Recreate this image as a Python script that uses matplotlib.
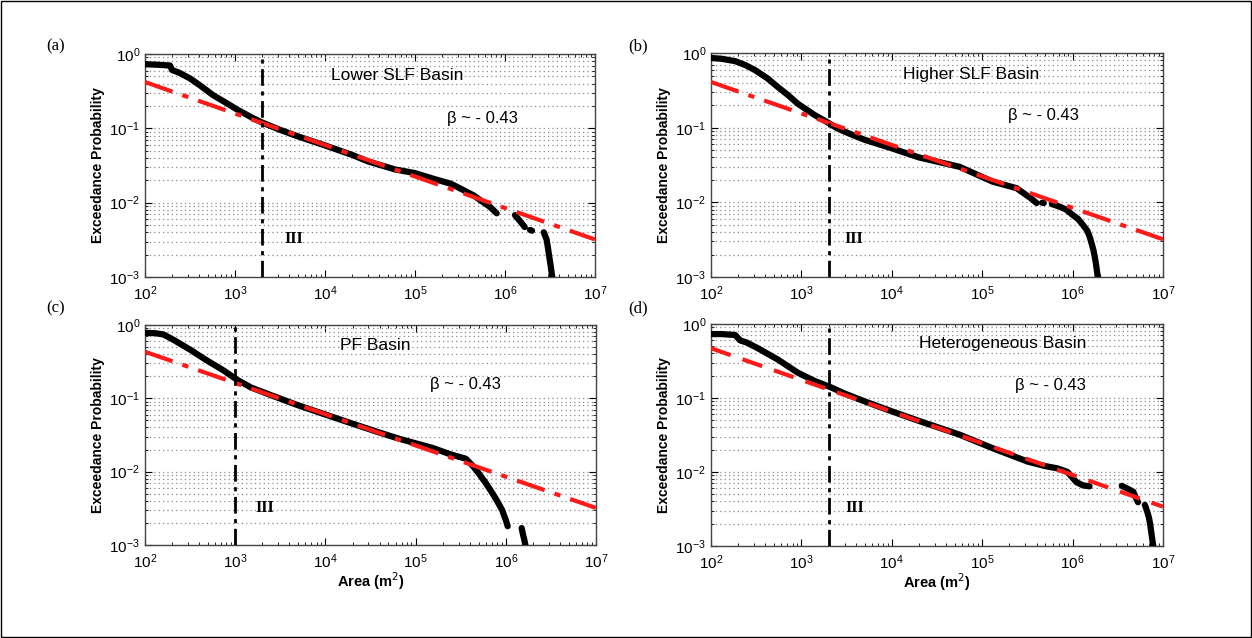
import numpy as np
import matplotlib
matplotlib.use("Agg")
from matplotlib import pyplot as plt
from matplotlib.patches import Rectangle
from matplotlib.ticker import LogLocator, NullFormatter

plt.rcParams['font.family'] = ['Liberation Sans', 'DejaVu Sans']

nan = np.nan

# (a) Lower SLF Basin - empirical exceedance curve (NaN breaks the gaps)
a_x = [100, 130, 160, 190, 200, 240, 316, 420, 570, 800, 1050, 1590, 2000, 3000, 5000,
       1e4, 2e4, 3e4, 6e4, 1e5, 1.6e5, 2.5e5, 3.2e5, 4.5e5, 5.7e5, 6.8e5, 8.1e5, nan,
       1.29e6, 1.5e6, 1.66e6, nan, 1.9e6, 2.0e6, nan,
       2.7e6, 2.9e6, 3.0e6, 3.1e6, 3.2e6, 3.35e6]
a_y = [0.73, 0.72, 0.71, 0.70, 0.61, 0.56, 0.47, 0.37, 0.28, 0.22, 0.18, 0.137, 0.12, 0.098, 0.078,
       0.059, 0.044, 0.036, 0.028, 0.025, 0.021, 0.018, 0.0155, 0.0125, 0.0102, 0.0088, 0.0072, nan,
       0.0068, 0.0055, 0.0047, nan, 0.0043, 0.0042, nan,
       0.0040, 0.0032, 0.0025, 0.0019, 0.0015, 0.001]

# (b) Higher SLF Basin
b_x = [100, 130, 185, 240, 308, 420, 550, 720, 910, 1400, 1900, 2500, 3500, 5000,
       1e4, 2e4, 5.6e4, 1.3e5, 2.4e5, 3.4e5, 4e5, nan, 4.6e5, 4.8e5, nan,
       5.9e5, 7.3e5, 8.5e5, 1.0e6, 1.15e6, 1.3e6, 1.45e6, 1.54e6, 1.6e6, 1.7e6, 1.8e6, 1.9e6]
b_y = [0.86, 0.84, 0.78, 0.69, 0.59, 0.46, 0.35, 0.27, 0.21, 0.148, 0.12, 0.098, 0.082, 0.069,
       0.053, 0.040, 0.030, 0.019, 0.0155, 0.0115, 0.0098, nan, 0.0099, 0.0098, nan,
       0.0095, 0.0087, 0.008, 0.0068, 0.006, 0.005, 0.0042, 0.0035, 0.003, 0.0023, 0.0016, 0.001]

# (c) PF Basin
c_x = [100, 130, 160, 205, 316, 480, 740, 1040, 1500, 2500, 5000, 1e4, 2e4, 4e4, 6.6e4,
       1.55e5, 2.5e5, 3.6e5, 4.3e5, 5e5, 6e5, 7.1e5, 8e5, 9.1e5, 1.0e6, 1.05e6, nan,
       1.5e6, 1.55e6, 1.6e6, 1.65e6]
c_y = [0.78, 0.77, 0.74, 0.63, 0.46, 0.33, 0.24, 0.18, 0.14, 0.11, 0.08, 0.06, 0.045, 0.034, 0.028,
       0.021, 0.017, 0.015, 0.012, 0.0095, 0.007, 0.0051, 0.004, 0.003, 0.0022, 0.0018, nan,
       0.0017, 0.0014, 0.0012, 0.001]

# (d) Heterogeneous Basin
d_x = [100, 130, 185, 210, 250, 330, 550, 910, 1400, 2100, 3000, 5000, 1e4, 2e4, 5.6e4,
       1.3e5, 3.2e5, 5e5, 6.8e5, 8.8e5, 1.1e6, 1.3e6, 1.54e6, nan,
       3.5e6, 4.0e6, 4.7e6, 5.0e6, 5.3e6, nan,
       6.3e6, 6.7e6, 7.0e6, 7.2e6, 7.5e6, 7.8e6]
d_y = [0.73, 0.73, 0.71, 0.60, 0.56, 0.47, 0.33, 0.22, 0.17, 0.14, 0.115, 0.09, 0.066, 0.049, 0.032,
       0.021, 0.0138, 0.012, 0.0112, 0.01, 0.0073, 0.0066, 0.0064, nan,
       0.0065, 0.006, 0.0054, 0.0045, 0.0039, nan,
       0.0036, 0.0029, 0.0024, 0.002, 0.0014, 0.001]

# power-law fit lines (end points), beta ~ -0.43
fit_x = [1e2, 1e7]
fit_a = [0.42, 0.0032]
fit_b = [0.41, 0.0032]
fit_c = [0.43, 0.0032]
fit_d = [0.47, 0.0034]

# cut-off area (vertical line)
cut = [2e3, 2e3, 1e3, 2e3]

panels = ["(a)", "(b)", "(c)", "(d)"]
titles = ["Lower SLF Basin", "Higher SLF Basin", "PF Basin", "Heterogeneous Basin"]
beta_label = "β ~ - 0.43"

fig = plt.figure(figsize=(12.52, 6.38), dpi=100)
fig.patches.append(Rectangle((0.001, 0.002), 0.998, 0.996, transform=fig.transFigure,
                             fill=False, edgecolor='black', linewidth=1))

rects = [[0.1158, 0.5658, 0.3594, 0.3495],
         [0.5679, 0.5658, 0.3610, 0.3510],
         [0.1158, 0.1458, 0.3602, 0.3450],
         [0.5679, 0.1442, 0.3610, 0.3480]]
curves = [(a_x, a_y), (b_x, b_y), (c_x, c_y), (d_x, d_y)]
fits = [fit_a, fit_b, fit_c, fit_d]
title_pos = [(0.56, 0.905), (0.575, 0.905), (0.51, 0.905), (0.645, 0.91)]
beta_pos = [(0.75, 0.713), (0.735, 0.72), (0.71, 0.73), (0.75, 0.725)]
iii_pos = [(0.331, 0.171), (0.317, 0.17), (0.266, 0.17), (0.318, 0.17)]
label_pos = [(0.037, 0.928), (0.502, 0.928), (0.037, 0.516), (0.502, 0.516)]

dashdot = (0, (7, 2.5, 1.5, 2.5))

for i in range(4):
    ax = fig.add_axes(rects[i])
    ax.set_xscale('log')
    ax.set_yscale('log')
    ax.set_xlim(1e2, 1e7)
    ax.set_ylim(1e-3, 1e0)

    ax.grid(True, which='both', axis='y', linestyle=(0, (1, 2.5)), color='#8a8a8a', linewidth=0.9)
    ax.set_axisbelow(True)

    x, y = curves[i]
    ax.plot(x, y, color='black', linewidth=4.5, solid_capstyle='round', zorder=3)
    if i == 3:
        ax.plot(fit_x, fits[i], color='#ff1a1a', linewidth=3, linestyle=(0, (5, 3)), zorder=4)
    else:
        ax.plot(fit_x, fits[i], color='#ff1a1a', linewidth=3, linestyle=dashdot, zorder=4)
    ax.axvline(cut[i], color='black', linewidth=2, linestyle=(0, (6, 2, 1.5, 2)), zorder=5)

    ax.text(title_pos[i][0], title_pos[i][1], titles[i], transform=ax.transAxes,
            ha='center', va='center', fontsize=12.5)
    ax.text(beta_pos[i][0], beta_pos[i][1], beta_label, transform=ax.transAxes,
            ha='center', va='center', fontsize=12)
    ax.text(iii_pos[i][0], iii_pos[i][1], "III", transform=ax.transAxes,
            ha='center', va='center', fontsize=11.5, fontweight='bold',
            family=['Liberation Serif', 'DejaVu Serif'])
    fig.text(label_pos[i][0], label_pos[i][1], panels[i], fontsize=12,
             family=['Liberation Serif', 'DejaVu Serif'], ha='left', va='center')

    ax.xaxis.set_major_locator(LogLocator(base=10, numticks=10))
    ax.xaxis.set_minor_locator(LogLocator(base=10, subs=np.arange(2, 10), numticks=10))
    ax.yaxis.set_minor_locator(LogLocator(base=10, subs=np.arange(2, 10), numticks=10))
    ax.xaxis.set_minor_formatter(NullFormatter())
    ax.yaxis.set_minor_formatter(NullFormatter())
    ax.tick_params(which='both', direction='in', top=True, right=True, labelsize=11)
    ax.tick_params(which='major', length=5)
    ax.tick_params(which='minor', length=2.5)
    ax.tick_params(axis='x', pad=5)
    for s in ax.spines.values():
        s.set_color('#444444')
        s.set_linewidth(1)

    ax.set_ylabel("Exceedance Probability", fontsize=10, fontweight='bold', labelpad=3)
    if i >= 2:
        ax.set_xlabel("Area (m$^2$)", fontsize=10.5, fontweight='bold', labelpad=0)

fig.savefig("out.png", dpi=100)
